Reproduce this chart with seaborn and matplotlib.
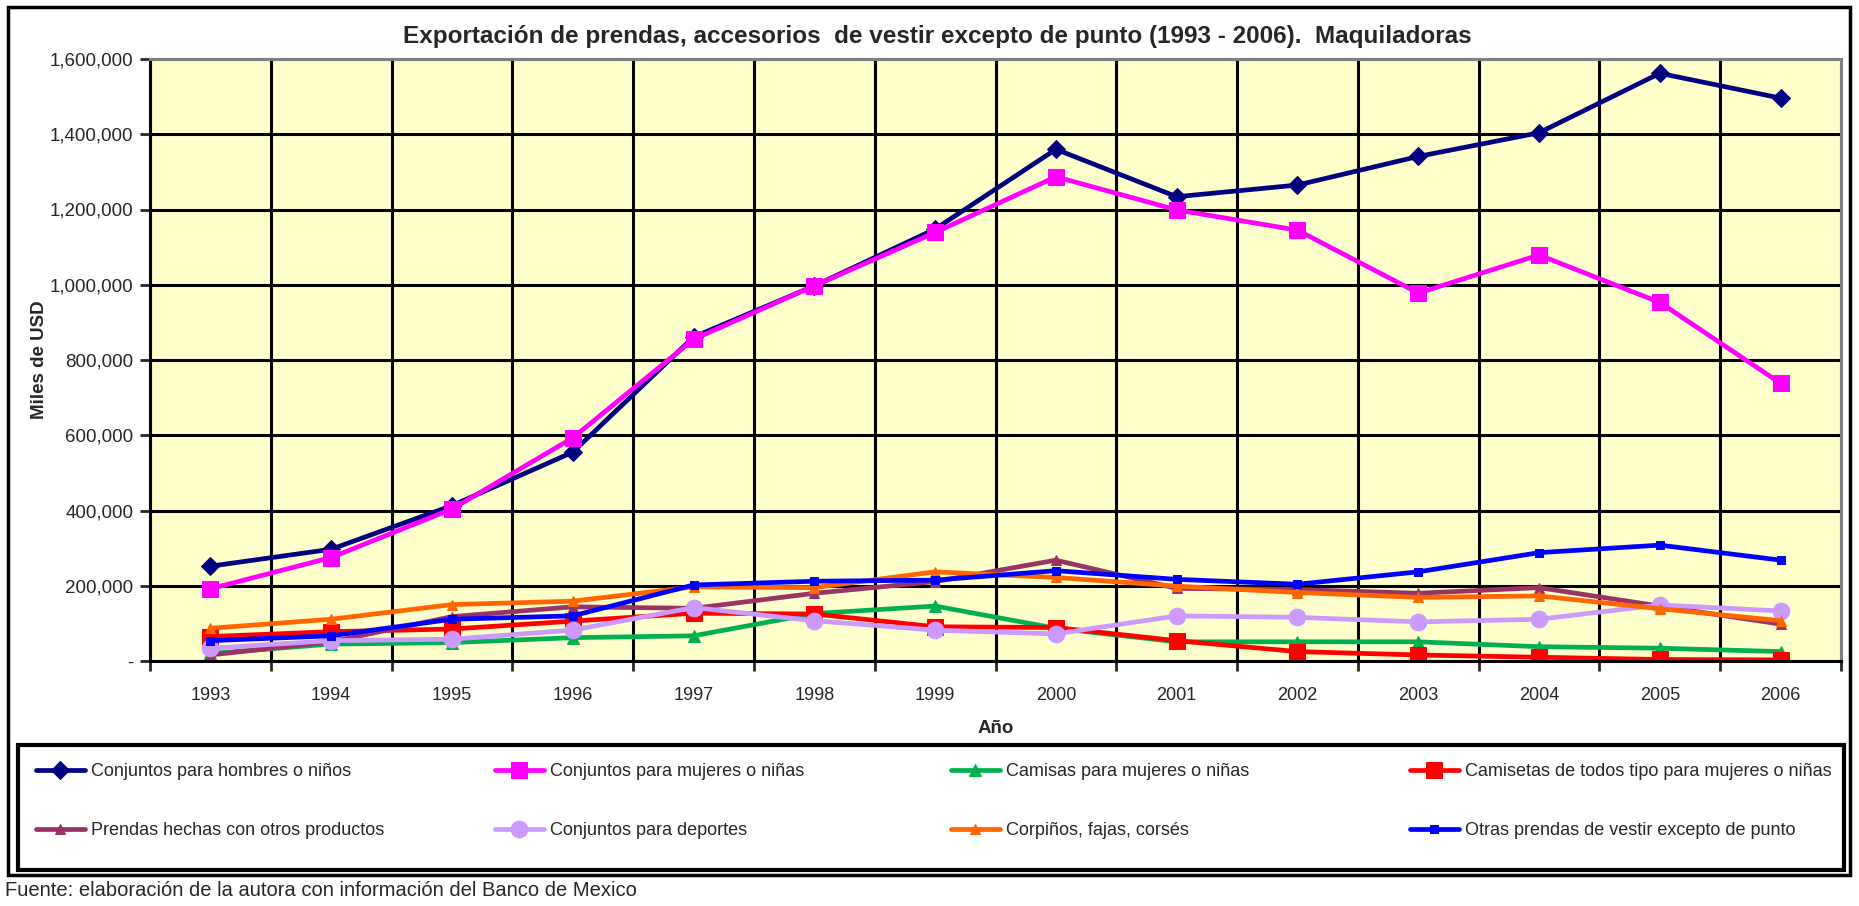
import pandas as pd
import seaborn as sns
import matplotlib.pyplot as plt
from matplotlib.legend import Legend
from matplotlib.patches import Rectangle
from matplotlib.ticker import FuncFormatter, MultipleLocator

# Datos (miles de USD)
anios = [1993, 1994, 1995, 1996, 1997, 1998, 1999, 2000, 2001, 2002, 2003, 2004, 2005, 2006]
hombres = [252000, 297000, 413000, 555000, 861000, 997000, 1148000, 1360000, 1234000, 1265000, 1341000, 1404000, 1562000, 1496000]
mujeres = [192000, 275000, 404000, 593000, 855000, 997000, 1139000, 1287000, 1199000, 1145000, 978000, 1079000, 953000, 738000]
camisas = [20000, 45000, 49000, 62000, 67000, 126000, 146000, 87000, 51000, 51000, 51000, 38000, 34000, 25000]
camisetas = [65000, 78000, 85000, 106000, 127000, 125000, 91000, 89000, 54000, 25000, 16000, 10000, 4000, 3000]
prendas = [16000, 51000, 118000, 144000, 140000, 180000, 211000, 268000, 193000, 190000, 180000, 195000, 146000, 98000]
deportes = [34000, 54000, 58000, 82000, 142000, 107000, 82000, 72000, 120000, 116000, 104000, 111000, 149000, 133000]
corpinos = [87000, 111000, 150000, 159000, 197000, 195000, 237000, 222000, 199000, 182000, 169000, 173000, 139000, 107000]
otras = [54000, 67000, 111000, 120000, 202000, 212000, 215000, 240000, 217000, 204000, 237000, 288000, 308000, 268000]

nombres = ['Conjuntos para hombres o niños', 'Conjuntos para mujeres o niñas',
           'Camisas para mujeres o niñas', 'Camisetas de todos tipo para mujeres o niñas',
           'Prendas hechas con otros productos', 'Conjuntos para deportes',
           'Corpiños, fajas, corsés', 'Otras prendas de vestir excepto de punto']
series = [hombres, mujeres, camisas, camisetas, prendas, deportes, corpinos, otras]
colores = ['#000080', '#FF00FF', '#00B050', '#FF0000', '#993366', '#CC99FF', '#FF6600', '#0000FF']
marcadores = ['D', 's', '^', 's', '^', 'o', '^', 's']
tamanos = [9, 11, 8, 11, 7, 12, 7, 6]

sns.set_style('white')
plt.rcParams['font.family'] = ['Liberation Sans', 'DejaVu Sans']

fig = plt.figure(figsize=(18.59, 9.06), dpi=100)
ax = fig.add_axes([150/1859, 1 - 661/906, (1841-150)/1859, (661-59)/906])
ax.set_facecolor('#FFFFCC')

for nombre, valores, color, m, ms in zip(nombres, series, colores, marcadores, tamanos):
    df = pd.DataFrame({'Año': anios, 'valor': valores})
    sns.lineplot(data=df, x='Año', y='valor', ax=ax, color=color, marker=m, markersize=ms,
                 markeredgecolor=color, linewidth=3.4, label=nombre)

ax.set_xlim(1992.5, 2006.5)
ax.set_ylim(0, 1600000)
ax.xaxis.set_major_locator(MultipleLocator(1))
ax.xaxis.set_minor_locator(MultipleLocator(1, offset=0.5))
ax.yaxis.set_major_locator(MultipleLocator(200000))
ax.yaxis.set_major_formatter(FuncFormatter(lambda v, p: '-' if v == 0 else f'{int(v):,}'))

ax.grid(False)
ax.grid(True, which='minor', axis='x', color='black', linewidth=2.2)
ax.grid(True, which='major', axis='y', color='black', linewidth=2.2)
ax.set_axisbelow(True)

ax.tick_params(axis='x', which='major', length=0, pad=19, labelsize=13)
ax.tick_params(axis='x', which='minor', length=7, width=2, direction='out', bottom=True)
ax.tick_params(axis='y', length=7, width=2, direction='out', left=True, labelsize=13.5, pad=5)

for lado in ['left', 'bottom']:
    ax.spines[lado].set_color('black')
    ax.spines[lado].set_linewidth(2.2)
for lado in ['top', 'right']:
    ax.spines[lado].set_color('#808080')
    ax.spines[lado].set_linewidth(2.2)

# Titulo centrado sobre todo el grafico
fig.text(937/1859, 1 - 37/906,
         'Exportación de prendas, accesorios  de vestir excepto de punto (1993 - 2006).  Maquiladoras',
         fontsize=17.5, fontweight='bold', ha='center', va='center')
ax.set_xlabel('Año', fontsize=13.5, fontweight='bold', labelpad=11)
ax.set_ylabel('Miles de USD', fontsize=13.5, fontweight='bold', labelpad=1)

# Leyenda: 4 columnas, 2 filas, ordenadas por filas
ax.get_legend().remove()
handles, labels = ax.get_legend_handles_labels()
columnas_x = [36, 495, 951, 1410]
for i, x0 in enumerate(columnas_x):
    idx = [i, i + 4]
    leg = Legend(fig, [handles[j] for j in idx], [labels[j] for j in idx], loc='upper left',
                 bbox_to_anchor=(x0/1859, 1 - 772/906, 0.2, 0.01), bbox_transform=fig.transFigure,
                 frameon=False, fontsize=13, borderaxespad=0, borderpad=0,
                 handlelength=2.7, handletextpad=0.35, labelspacing=2.35)
    fig.add_artist(leg)

fig.patches.append(Rectangle((18/1859, 1 - 870/906), (1844-18)/1859, (870-745)/906,
                             transform=fig.transFigure, fill=False, edgecolor='black', linewidth=3))

# Borde exterior del grafico
fig.patches.append(Rectangle((8/1859, 1 - 875/906), (1850-8)/1859, (875-7)/906,
                             transform=fig.transFigure, fill=False, edgecolor='black', linewidth=2.5))

fig.text(5/1859, 1 - 891/906, 'Fuente: elaboración de la autora con información del Banco de Mexico',
         fontsize=14.5, va='center', ha='left')

plt.savefig('out.png', dpi=100)
